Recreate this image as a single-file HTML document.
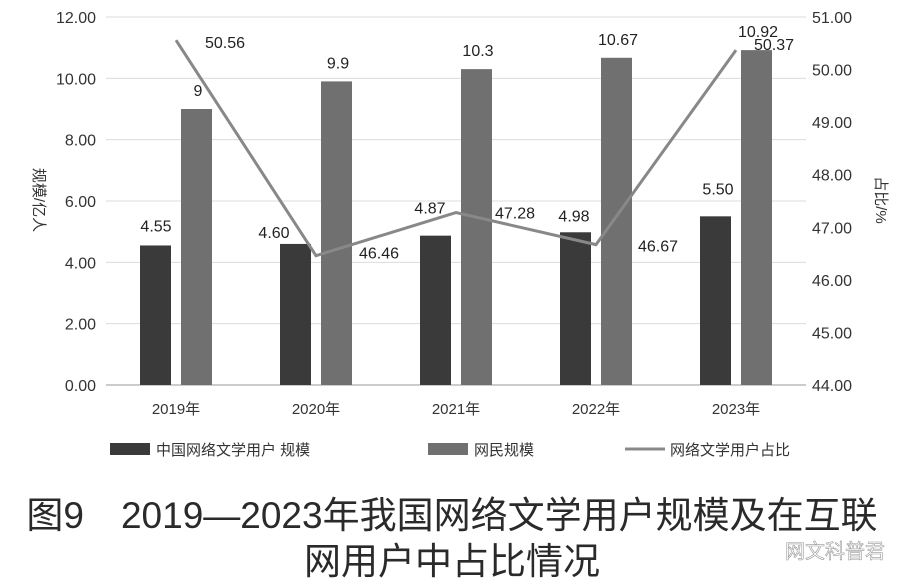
<!DOCTYPE html>
<html><head><meta charset="utf-8"><style>
body{margin:0;background:#fff;}
svg text{font-family:"Liberation Sans","Noto Sans CJK SC",sans-serif;}
</style></head><body>
<svg width="902" height="582" viewBox="0 0 902 582" id="c">
<g id="grid"></g>
<text x="452" y="528" font-size="37" fill="#2a2a2a" text-anchor="middle">图9　2019—2023年我国网络文学用户规模及在互联</text>
<text x="452" y="574" font-size="37" fill="#2a2a2a" text-anchor="middle">网用户中占比情况</text>
<text x="835" y="558" font-size="20" fill="#fff" stroke="#999" stroke-width="0.6" text-anchor="middle">网文科普君</text>
<text transform="translate(34,200) rotate(90)" font-size="15" fill="#333" text-anchor="middle">规模/亿人</text>
<text transform="translate(876,200) rotate(90)" font-size="15" fill="#333" text-anchor="middle">占比/%</text>
<g>
<rect x="110" y="443" width="40" height="12" fill="#3a3a3a"/>
<text x="156" y="455" font-size="15" fill="#333">中国网络文学用户 规模</text>
<rect x="428" y="443" width="40" height="12" fill="#707070"/>
<text x="474" y="455" font-size="15" fill="#333">网民规模</text>
<line x1="625" y1="449" x2="665" y2="449" stroke="#888" stroke-width="3"/>
<text x="670" y="455" font-size="15" fill="#333">网络文学用户占比</text>
</g>
</svg>
<script>
const categories=["2019年","2020年","2021年","2022年","2023年"];
const users=[4.55,4.60,4.87,4.98,5.50];
const userLabels=["4.55","4.60","4.87","4.98","5.50"];
const netizens=[9,9.9,10.3,10.67,10.92];
const netizenLabels=["9","9.9","10.3","10.67","10.92"];
const ratio=[50.56,46.46,47.28,46.67,50.37];
const ratioLabels=["50.56","46.46","47.28","46.67","50.37"];
const leftTicks=["0.00","2.00","4.00","6.00","8.00","10.00","12.00"];
const rightTicks=["44.00","45.00","46.00","47.00","48.00","49.00","50.00","51.00"];
const svg=document.getElementById('c');
const grid=document.getElementById('grid');
const NS="http://www.w3.org/2000/svg";
const x0=106,band=140,yB=385,yT=17;
const yL=v=>yB-(v/12)*(yB-yT);
const yR=v=>yB-((v-44)/7)*(yB-yT);
const xC=i=>x0+band*i+band/2;
function mk(t,a,txt,p){const e=document.createElementNS(NS,t);for(const k in a)e.setAttribute(k,a[k]);if(txt!=null)e.textContent=txt;(p||svg).appendChild(e);return e;}
leftTicks.forEach((t,i)=>{const e=mk('text',{x:96,y:yL(+t)+6,'font-size':16,fill:'#333','text-anchor':'end'},t);


if(+t>0){const g=mk('line',{x1:x0,y1:yL(+t),x2:x0+700,y2:yL(+t),stroke:'#dcdcdc','stroke-width':1},null,grid);

}});
rightTicks.forEach(t=>{const e=mk('text',{x:812,y:yR(+t)+6,'font-size':16,fill:'#333'},t);

});
const base=mk('line',{x1:x0,y1:yB,x2:x0+700,y2:yB,stroke:'#bbb','stroke-width':1.5});


const ulx=[-20,-42,-26,-22,-18],uly=[-14,-6,-22,-11,-22];
categories.forEach((c,i)=>{
 const cx=xC(i);
 const b1=mk('rect',{x:cx-36,y:yL(users[i]),width:31,height:yB-yL(users[i]),fill:'#3a3a3a'});
 
 
 const b2=mk('rect',{x:cx+5,y:yL(netizens[i]),width:31,height:yB-yL(netizens[i]),fill:'#707070'});
 
 
 const l1=mk('text',{x:cx+ulx[i],y:yL(users[i])+uly[i],'font-size':16,fill:'#222','text-anchor':'middle'},userLabels[i]);
 
 
 const l2=mk('text',{x:cx+22,y:yL(netizens[i])-13,'font-size':16,fill:'#222','text-anchor':'middle'},netizenLabels[i]);
 
 
 const xl=mk('text',{x:cx,y:414,'font-size':15,fill:'#333','text-anchor':'middle'},c);
 
 
});
const pts=ratio.map((v,i)=>xC(i)+','+yR(v)).join(' ');
const pl=mk('polyline',{points:pts,fill:'none',stroke:'#888','stroke-width':3});


const dx=[49,63,59,62,38],dy=[8,3,6,7,0];
ratio.forEach((v,i)=>{const t=mk('text',{x:xC(i)+dx[i],y:yR(v)+dy[i],'font-size':16,fill:'#222','text-anchor':'middle'},ratioLabels[i]);

});
</script>
</body></html>
